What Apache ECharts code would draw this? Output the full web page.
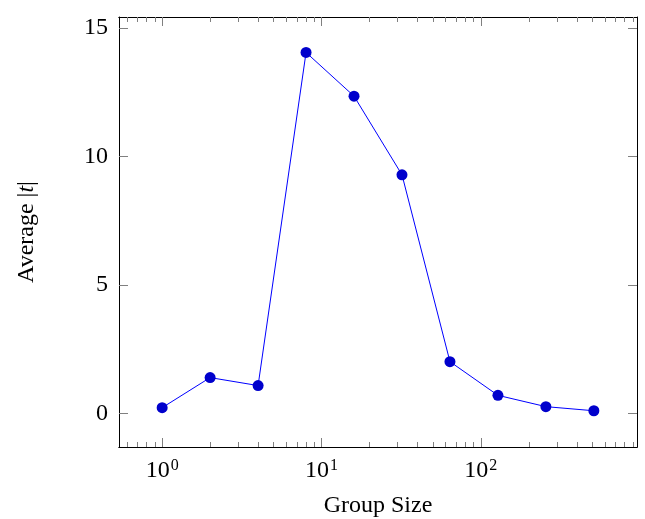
<!DOCTYPE html>
<html>
<head>
<meta charset="utf-8">
<script src="https://cdn.jsdelivr.net/npm/echarts@6/dist/echarts.min.js"></script>
<style>
  html, body { margin: 0; padding: 0; background: #fff; }
  #chart { width: 645px; height: 519px; }
</style>
</head>
<body>
<div id="chart"></div>
<script>
const groupSizes = [1, 2, 4, 8, 16, 32, 64, 128, 256, 512]
const avgT = [0.23, 1.40, 1.09, 14.05, 12.35, 9.29, 2.02, 0.71, 0.27, 0.11]
const xMajorTicks = [1, 10, 100]
const xMinorTicks = [
  0.6, 0.7, 0.8, 0.9,
  2, 3, 4, 5, 6, 7, 8, 9,
  20, 30, 40, 50, 60, 70, 80, 90,
  200, 300, 400, 500, 600, 700, 800, 900,
]
const yTicks = [0, 5, 10, 15]

const FONT = 'Liberation Serif'
const FS = 24
const X_MIN = 0.536
const X_MAX = 955
const Y_MIN = -1.3
const Y_MAX = 15.43
const tickColor = '#808080'

function xAxisDef(position, ticks, len, withLabels) {
  return {
    type: 'log',
    logBase: 10,
    position: position,
    min: X_MIN,
    max: X_MAX,
    axisLine: { show: true, onZero: false, lineStyle: { color: '#000', width: 1 } },
    axisTick: {
      show: true, inside: true, length: len,
      customValues: ticks,
      lineStyle: { color: tickColor, width: 1 },
    },
    axisLabel: withLabels ? {
      show: true,
      margin: 11,
      customValues: xMajorTicks,
      formatter: (v) => '{b|10}{s|' + Math.round(Math.log10(v)) + '}',
      rich: {
        b: { fontFamily: FONT, fontSize: FS, color: '#000' },
        s: { fontFamily: FONT, fontSize: 16, color: '#000', verticalAlign: 'top', padding: [0, 0, 10, 1] },
      },
    } : { show: false },
    splitLine: { show: false },
    minorTick: { show: false },
    minorSplitLine: { show: false },
  }
}

function yAxisDef(position, withLabels) {
  return {
    type: 'value',
    position: position,
    min: Y_MIN,
    max: Y_MAX,
    axisLine: { show: true, onZero: false, lineStyle: { color: '#000', width: 1 } },
    axisTick: {
      show: true, inside: true, length: 9,
      customValues: yTicks,
      lineStyle: { color: tickColor, width: 1 },
    },
    axisLabel: withLabels ? {
      show: true,
      margin: 11,
      customValues: yTicks,
      fontFamily: FONT,
      fontSize: FS,
      color: '#000',
    } : { show: false },
    splitLine: { show: false },
  }
}

const xBottom = xAxisDef('bottom', xMajorTicks, 9, true)
xBottom.name = 'Group Size'
xBottom.nameLocation = 'middle'
xBottom.nameGap = 47
xBottom.nameTextStyle = { fontFamily: FONT, fontSize: FS, color: '#000' }

const yLeft = yAxisDef('left', true)
yLeft.name = '{a|Average |}{i|t}{a||}'
yLeft.nameLocation = 'middle'
yLeft.nameGap = 80
yLeft.nameRotate = 90
yLeft.nameTextStyle = {
  rich: {
    a: { fontFamily: FONT, fontSize: FS, color: '#000' },
    i: { fontFamily: FONT, fontSize: FS, fontStyle: 'italic', color: '#000' },
  },
}

const chart = echarts.init(document.getElementById('chart'), null, { renderer: 'canvas' })
chart.setOption({
  backgroundColor: '#fff',
  animation: false,
  grid: { left: 119, right: 8, top: 17, bottom: 72, containLabel: false, outerBoundsMode: 'none' },
  xAxis: [
    xBottom,
    xAxisDef('bottom', xMinorTicks, 5, false),
    xAxisDef('top', xMajorTicks, 9, false),
    xAxisDef('top', xMinorTicks, 5, false),
  ],
  yAxis: [yLeft, yAxisDef('right', false)],
  series: [
    {
      type: 'line',
      xAxisIndex: 0,
      yAxisIndex: 0,
      data: groupSizes.map((g, i) => [g, avgT[i]]),
      symbol: 'circle',
      symbolSize: 11,
      lineStyle: { color: '#0000ff', width: 1 },
      itemStyle: { color: '#0000cc' },
    },
  ],
})
</script>
</body>
</html>
